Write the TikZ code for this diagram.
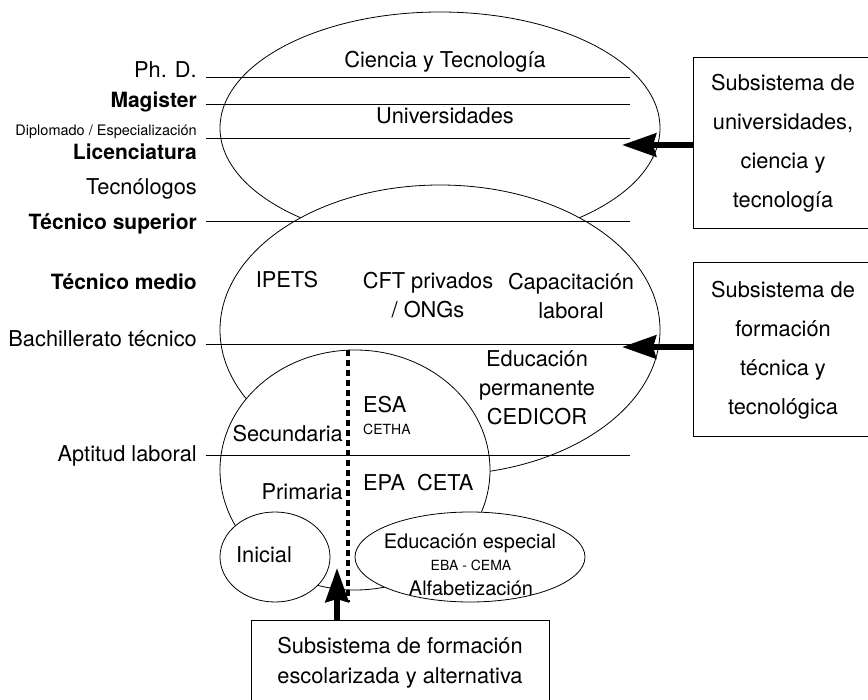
\documentclass[tikz,border=0pt]{standalone}
\usepackage{fontspec}
\setmainfont{TeX Gyre Heros}
\usetikzlibrary{arrows.meta, positioning, shapes.geometric}

\begin{document}
\begin{tikzpicture}[x=1pt, y=-1pt,
    every node/.style={inner sep=0pt},
    nivel/.style={anchor=base east, font=\fontsize{21.8}{25}\selectfont},
    nivelb/.style={anchor=base east, font=\fontsize{21}{25}\selectfont\bfseries},
    lbl/.style={anchor=base, font=\fontsize{21.8}{25}\selectfont},
    lblsm/.style={anchor=base, font=\fontsize{14}{16}\selectfont},
    grupo/.style={align=center, font=\fontsize{21.8}{29}\selectfont},
    zona/.style={draw, ellipse, fill=white, line width=0.8pt},
    subsis/.style={draw, line width=1pt, align=center, font=\fontsize{21.8}{39}\selectfont},
    flecha/.style={line width=6pt, -{Stealth[length=34pt, width=23pt, inset=3pt]}}]
                \useasboundingbox (0,0) rectangle (868,700);
                \clip (0,0) rectangle (868,700);
                % zonas
                \node[zona, minimum width=440pt, minimum height=232pt] (univ) at (440,128) {};
                \node[zona, minimum width=440pt, minimum height=290pt] (tecnica) at (440,330) {};
                \node[zona, minimum width=270pt, minimum height=240pt] (escolar) at (355,470) {};
                \node[zona, minimum width=110pt, minimum height=90pt] (inicial) at (275,557) {};
                \node[zona, minimum width=230pt, minimum height=90pt] (especial) at (470,557) {};
                \foreach \yy in {77,104,138,221,344,455}
                    \draw[line width=0.8pt] (206,\yy) -- (630,\yy);
                \draw[line width=3.5pt, dash pattern=on 6pt off 4pt] (348,350) -- (348,602);
                % niveles
                \node[nivel] (phd) at (197,78) {Ph. D.};
                \node[nivelb] (mag) at (197,108) {Magister};
                \node[nivel, font=\fontsize{14.5}{16}\selectfont] (dipl) at (197,136) {Diplomado / Especialización};
                \node[nivelb] (lic) at (197,160) {Licenciatura};
                \node[nivel] (tecno) at (197,195) {Tecnólogos};
                \node[nivelb] (tsup) at (197,230) {Técnico superior};
                \node[nivelb] (tmed) at (197,290) {Técnico medio};
                \node[nivel] (bach) at (197,347) {Bachillerato técnico};
                \node[nivel] (apt) at (197,462) {Aptitud laboral};
                % instituciones
                \node[lbl] (cyt) at (445,68) {Ciencia y Tecnología};
                \node[lbl] (unis) at (445,124) {Universidades};
                \node[lbl] (ipets) at (287,288) {IPETS};
                \node[grupo] (cft) at (428,295) {CFT privados\\/ ONGs};
                \node[grupo] (capac) at (571,296) {Capacitación\\laboral};
                \node[grupo] (perm) at (537,388) {Educación\\permanente\\CEDICOR};
                \node[lbl, anchor=base west] (esa) at (363,413) {ESA};
                \node[lblsm, anchor=base west] (cetha) at (363,435) {CETHA};
                \node[lbl, anchor=base east] (secu) at (343,442) {Secundaria};
                \node[lbl, anchor=base east] (prim) at (343,500) {Primaria};
                \node[lbl, anchor=base west] (epa) at (363,490) {EPA\ \ CETA};
                \node[lbl] (ini) at (264,562) {Inicial};
                \node[lbl, font=\fontsize{20}{24}\selectfont] (esp) at (470,548) {Educación especial};
                \node[lblsm] (eba) at (471,570) {EBA - CEMA};
                \node[lbl, font=\fontsize{20}{24}\selectfont] (alfa) at (471,595) {Alfabetización};
                % subsistemas
                \node[subsis, minimum width=180pt, minimum height=171pt] (subuniv) at (783,143.5) {Subsistema de\\universidades,\\ciencia y\\tecnología};
                \node[subsis, minimum width=180pt, minimum height=174pt] (subtec) at (783,350) {Subsistema de\\formación\\técnica y\\tecnológica};
                \node[subsis, minimum width=298pt, minimum height=86pt, font=\fontsize{21.8}{30}\selectfont] (subesc) at (400,663) {Subsistema de formación\\escolarizada y alternativa};
                \coordinate (puntaU) at (622,145);
                \coordinate (puntaT) at (622,347);
                \coordinate (puntaE) at (337,568);
                \draw[flecha] (subuniv.west |- puntaU) -- (puntaU);
                \draw[flecha] (subtec.west |- puntaT) -- (puntaT);
                \draw[flecha] (subesc.north -| puntaE) -- (puntaE);
            \end{tikzpicture}
\end{document}
